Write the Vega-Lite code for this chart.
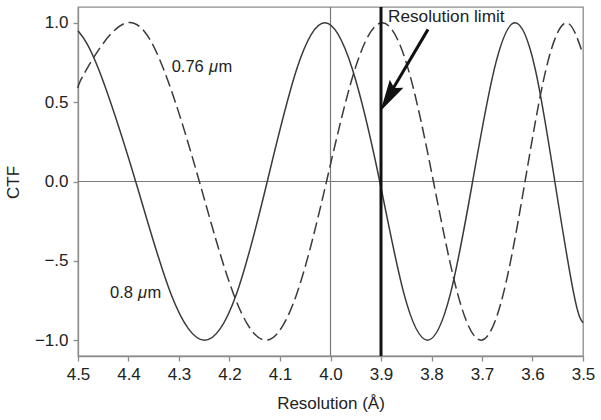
{
  "$schema": "https://vega.github.io/schema/vega-lite/v6.json",
  "width": 505,
  "height": 349,
  "autosize": {"type": "none"},
  "padding": {"left": 78, "top": 7, "right": 18, "bottom": 64},
  "background": "white",
  "config": {
    "view": {"stroke": "#8c8c8c", "strokeWidth": 1.3},
    "axis": {
      "grid": false,
      "domainColor": "#8c8c8c",
      "domainWidth": 1.3,
      "tickColor": "#8c8c8c",
      "tickWidth": 1.3,
      "tickSize": 5,
      "labelFlush": false,
      "labelOverlap": false,
      "labelFont": "Liberation Sans",
      "labelFontSize": 17,
      "labelColor": "#222",
      "titleFont": "Liberation Sans",
      "titleFontSize": 17,
      "titleFontWeight": "normal",
      "titleColor": "#222"
    },
    "text": {"font": "Liberation Sans", "color": "#222"}
  },
  "datasets": {
    "solid": [
      {"x": 4.5, "y": 0.95},
      {"x": 4.4591, "y": 0.707},
      {"x": 4.3858, "y": 0},
      {"x": 4.3161, "y": -0.707},
      {"x": 4.2495, "y": -1},
      {"x": 4.186, "y": -0.707},
      {"x": 4.1252, "y": 0},
      {"x": 4.067, "y": 0.707},
      {"x": 4.0112, "y": 1},
      {"x": 3.9566, "y": 0.707},
      {"x": 3.9025, "y": 0},
      {"x": 3.8546, "y": -0.707},
      {"x": 3.8079, "y": -1},
      {"x": 3.7625, "y": -0.707},
      {"x": 3.7186, "y": 0},
      {"x": 3.6758, "y": 0.707},
      {"x": 3.6345, "y": 1},
      {"x": 3.5945, "y": 0.707},
      {"x": 3.5558, "y": 0},
      {"x": 3.5183, "y": -0.707},
      {"x": 3.5, "y": -0.89}
    ],
    "dashed": [
      {"x": 4.5, "y": 0.59},
      {"x": 4.483, "y": 0.707},
      {"x": 4.4047, "y": 1},
      {"x": 4.3304, "y": 0.707},
      {"x": 4.2597, "y": 0},
      {"x": 4.1923, "y": -0.707},
      {"x": 4.1281, "y": -1},
      {"x": 4.0667, "y": -0.707},
      {"x": 4.0079, "y": 0},
      {"x": 3.9517, "y": 0.707},
      {"x": 3.8977, "y": 1},
      {"x": 3.846, "y": 0.707},
      {"x": 3.7962, "y": 0},
      {"x": 3.7483, "y": -0.707},
      {"x": 3.7021, "y": -1},
      {"x": 3.6577, "y": -0.707},
      {"x": 3.6148, "y": 0},
      {"x": 3.5733, "y": 0.707},
      {"x": 3.5333, "y": 1},
      {"x": 3.5, "y": 0.8}
    ]
  },
  "layer": [
    {
      "data": {"values": [{"y": 0}]},
      "mark": {"type": "rule", "color": "#7a7a7a", "strokeWidth": 1.2},
      "encoding": {
        "y": {
          "field": "y",
          "type": "quantitative",
          "title": "CTF",
          "scale": {"domain": [-1.1, 1.1], "nice": false, "zero": false},
          "axis": {
            "values": [-1, -0.5, 0, 0.5, 1],
            "labelExpr": "datum.value == -0.5 ? '−.5' : datum.value == -1 ? '−1.0' : format(datum.value, '.1f')",
            "labelPadding": 5,
            "titleAngle": -90,
            "titleX": -65,
            "titleY": 175,
            "titleAlign": "center",
            "titleBaseline": "middle"
          }
        }
      }
    },
    {
      "data": {"values": [{"x": 4.0}]},
      "mark": {"type": "rule", "color": "#7a7a7a", "strokeWidth": 1.2},
      "encoding": {
        "x": {
          "field": "x",
          "type": "quantitative",
          "title": "Resolution (Å)",
          "scale": {"domain": [3.5, 4.5], "reverse": true, "nice": false, "zero": false},
          "axis": {
            "values": [3.5, 3.6, 3.7, 3.8, 3.9, 4.0, 4.1, 4.2, 4.3, 4.4, 4.5],
            "format": ".1f",
            "labelPadding": 5,
            "titleY": 47,
            "titleBaseline": "middle"
          }
        }
      }
    },
    {
      "data": {"name": "solid"},
      "mark": {"type": "line", "interpolate": "natural", "color": "#3a3a3a", "strokeWidth": 1.5},
      "encoding": {
        "x": {"field": "x", "type": "quantitative", "title": "Resolution (Å)"},
        "y": {"field": "y", "type": "quantitative", "title": "CTF"}
      }
    },
    {
      "data": {"name": "dashed"},
      "mark": {"type": "line", "interpolate": "natural", "color": "#3a3a3a", "strokeWidth": 1.5, "strokeDash": [12, 5]},
      "encoding": {
        "x": {"field": "x", "type": "quantitative", "title": "Resolution (Å)"},
        "y": {"field": "y", "type": "quantitative", "title": "CTF"}
      }
    },
    {
      "data": {"values": [{"x": 3.9}]},
      "mark": {"type": "rule", "color": "#111", "strokeWidth": 3},
      "encoding": {
        "x": {"field": "x", "type": "quantitative", "title": "Resolution (Å)"}
      }
    },
    {
      "data": {"values": [{"x": 3.8069, "y": 0.959, "x2": 3.883, "y2": 0.548}]},
      "mark": {"type": "rule", "color": "#111", "strokeWidth": 3},
      "encoding": {
        "x": {"field": "x", "type": "quantitative", "title": "Resolution (Å)"},
        "y": {"field": "y", "type": "quantitative", "title": "CTF"},
        "x2": {"field": "x2"},
        "y2": {"field": "y2"}
      }
    },
    {
      "data": {"values": [{"x": 3.885, "y": 0.53}]},
      "mark": {"type": "point", "shape": "M0,1L-0.5,-1L0,-0.7L0.5,-1Z", "size": 1000, "angle": 30.5, "filled": true, "color": "#111", "opacity": 1, "strokeWidth": 0},
      "encoding": {
        "x": {"field": "x", "type": "quantitative", "title": "Resolution (Å)"},
        "y": {"field": "y", "type": "quantitative", "title": "CTF"}
      }
    },
    {
      "data": {"values": [
        {"x": 4.3145, "y": 0.719, "t": "0.76"},
        {"x": 4.2218, "y": 0.719, "t": "m"},
        {"x": 4.4366, "y": -0.7, "t": "0.8"},
        {"x": 4.3624, "y": -0.7, "t": "m"}
      ]},
      "mark": {"type": "text", "align": "left", "baseline": "middle", "fontSize": 16.5, "color": "#222"},
      "encoding": {
        "x": {"field": "x", "type": "quantitative", "title": "Resolution (Å)"},
        "y": {"field": "y", "type": "quantitative", "title": "CTF"},
        "text": {"field": "t"}
      }
    },
    {
      "data": {"values": [
        {"x": 4.2406, "y": 0.719, "t": "μ"},
        {"x": 4.3812, "y": -0.7, "t": "μ"}
      ]},
      "mark": {"type": "text", "align": "left", "baseline": "middle", "fontSize": 16.5, "fontStyle": "italic", "color": "#222"},
      "encoding": {
        "x": {"field": "x", "type": "quantitative", "title": "Resolution (Å)"},
        "y": {"field": "y", "type": "quantitative", "title": "CTF"},
        "text": {"field": "t"}
      }
    },
    {
      "data": {"values": [{"x": 3.8861, "y": 1.035, "t": "Resolution limit"}]},
      "mark": {"type": "text", "align": "left", "baseline": "middle", "fontSize": 17.2, "color": "#222"},
      "encoding": {
        "x": {"field": "x", "type": "quantitative", "title": "Resolution (Å)"},
        "y": {"field": "y", "type": "quantitative", "title": "CTF"},
        "text": {"field": "t"}
      }
    }
  ]
}
